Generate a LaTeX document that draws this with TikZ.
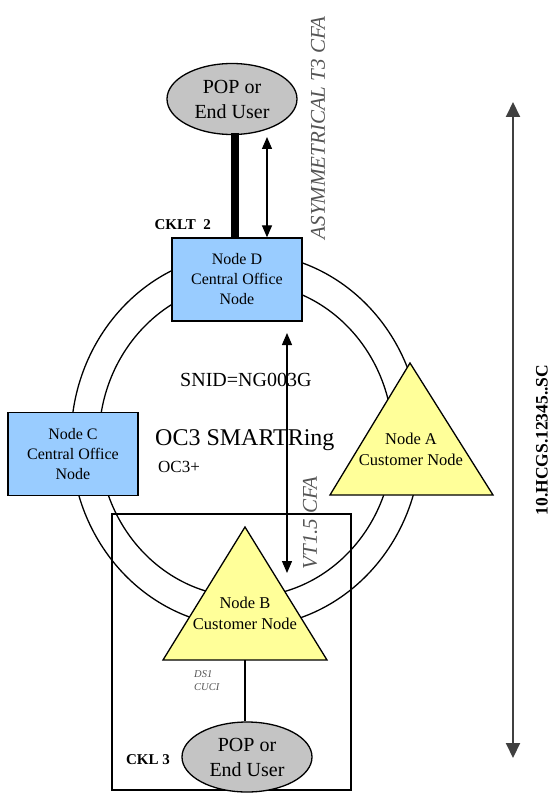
\documentclass[tikz,border=0pt]{standalone}
\usepackage{fontspec}
\setmainfont{Liberation Serif}
\usetikzlibrary{arrows.meta,shapes.geometric}
\definecolor{popgray}{HTML}{C4C4C4}
\definecolor{offblue}{HTML}{99CCFF}
\definecolor{custyellow}{HTML}{FFFF99}
\definecolor{labgray}{HTML}{555555}
\begin{document}
\begin{tikzpicture}[x=1pt,y=-1pt,
  popnode/.style={draw, line width=1.3pt, fill=popgray, ellipse, minimum width=130pt, minimum height=71pt, inner sep=0pt, align=center, font=\fontsize{20}{25}\selectfont},
  officebox/.style={draw, line width=1.3pt, fill=offblue, rectangle, minimum width=130pt, minimum height=83pt, inner sep=0pt, align=center, font=\fontsize{16}{20}\selectfont},
  tritext/.style={align=center, inner sep=0pt, font=\fontsize{16.5}{21}\selectfont},
  trishape/.style={draw, line width=1.3pt, fill=custyellow, line join=miter},
  ringline/.style={line width=1.3pt},
  dblarrow/.style={line width=1.3pt, {Triangle[length=12pt,width=10pt]}-{Triangle[length=12pt,width=10pt]}},
  cfalabel/.style={rotate=90, inner sep=0pt, text=labgray, font=\fontsize{21}{25}\selectfont\itshape},
  cklabel/.style={inner sep=0pt, font=\fontsize{15}{18}\selectfont\bfseries}]
\useasboundingbox (0,0) rectangle (553,794);
% ring
\draw[ringline] (246,440) ellipse [x radius=175, y radius=187];
\draw[ringline] (246,440) ellipse [x radius=147, y radius=157];
% frame around node B
\draw[line width=1.1pt] (112,514) rectangle (351,790);
% nodes
\node[popnode] (pop1) at (232,99) {POP or\\End User};
\node[officebox] (nodeD) at (237,279.5) {Node D\\Central Office\\Node};
\node[officebox] (nodeC) at (73,454) {Node C\\Central Office\\Node};
\path[trishape] (410,363) -- (493,495) -- (330,495) -- cycle;
\node[tritext] (nodeA) at (411,449) {Node A\\Customer Node};
\path[trishape] (245,527) -- (327,660) -- (163,660) -- cycle;
\node[tritext] (nodeB) at (245,613) {Node B\\Customer Node};
\coordinate (nodeBbase) at (245,660);
\node[popnode, minimum height=70pt] (pop2) at (247,757) {POP or\\End User};
% connectors
\coordinate (thicktop) at (235,133);
\draw[line width=8pt] (thicktop) -- (thicktop |- nodeD.north);
\coordinate (asymtop) at (267,137);
\draw[dblarrow] (asymtop) -- (asymtop |- nodeD.north);
\coordinate (vttop) at (287,333);
\coordinate (vtbot) at (287,573);
\draw[dblarrow] (vttop) -- (vtbot);
\draw[line width=1.3pt] (nodeBbase) -- (nodeBbase |- pop2.north);
\coordinate (dimtop) at (513,102);
\coordinate (dimbot) at (513,758);
\draw[line width=2pt, draw=black!75, {Triangle[length=15pt,width=14pt]}-{Triangle[length=15pt,width=14pt]}] (dimtop) -- (dimbot);
% labels
\node[cklabel, anchor=east] (cklt) at (211,225) {CKLT\ \ 2};
\node[cfalabel] (asym) at (318,128) {ASYMMETRICAL T3 CFA};
\node[inner sep=0pt, anchor=west, font=\fontsize{20}{24}\selectfont] (snid) at (180,380) {SNID=NG003G};
\node[inner sep=0pt, anchor=west, font=\fontsize{24}{28}\selectfont] (oc3) at (155,440) {OC3 SMARTRing};
\node[inner sep=0pt, anchor=west, font=\fontsize{17}{20}\selectfont] (oc3p) at (158,467) {OC3+};
\node[cfalabel] (vt) at (310,523) {VT1.5 CFA};
\node[rotate=90, inner sep=0pt, font=\fontsize{17.5}{20}\selectfont\bfseries] (dimlab) at (542,440) {10.HCGS.12345..SC};
\node[inner sep=0pt, anchor=west, align=left, text=labgray, font=\fontsize{10.5}{13}\selectfont\itshape] (ds1) at (194,681) {DS1\\CUCI};
\node[cklabel] (ckl3) at (148,760) {CKL 3};
\end{tikzpicture}
\end{document}
